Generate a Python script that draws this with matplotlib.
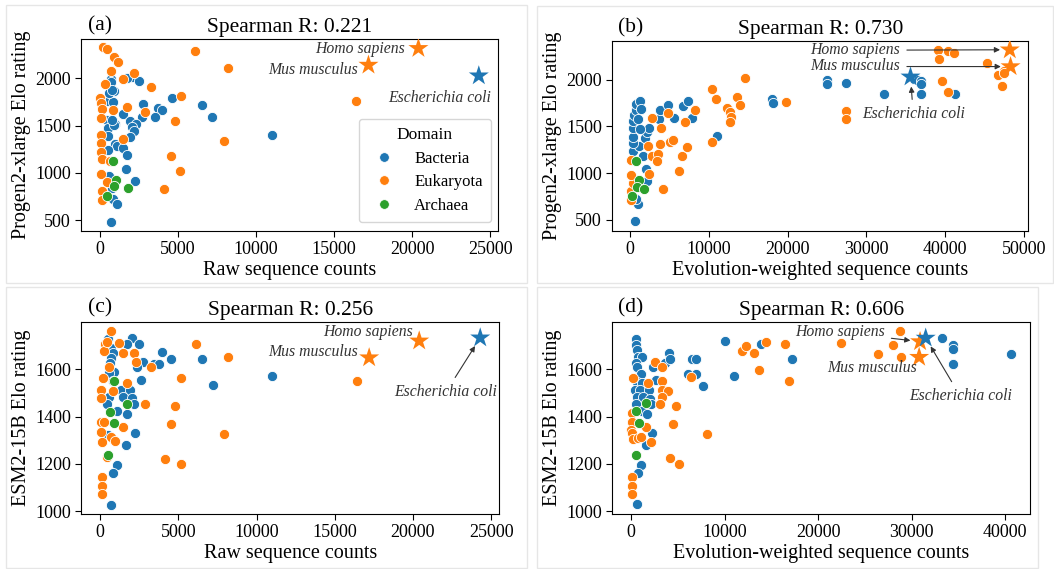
import matplotlib
matplotlib.use("Agg")
import matplotlib.pyplot as plt
from matplotlib.lines import Line2D
from matplotlib.patches import Rectangle
import numpy as np

plt.rcParams['font.family'] = ['Liberation Serif', 'DejaVu Serif']

BLUE, ORANGE, GREEN = '#1f77b4', '#ff7f0e', '#2ca02c'

#%% Data

# (a) raw counts vs Progen2-xlarge Elo
a_bac = [(2020, 2018), (1708, 2000), (2500, 1972), (708, 1993), (708, 1958), (667, 1859), (875, 1869),
         (500, 1764), (833, 1746), (2750, 1728), (6541, 1717), (3729, 1682), (3958, 1661), (3500, 1591),
         (7200, 1587), (2666, 1591), (1458, 1622), (458, 1562), (1916, 1552), (2333, 1517), (2020, 1488),
         (2166, 1446), (521, 1478), (979, 1517), (1916, 1375), (500, 1386), (979, 1305), (1104, 1287),
         (1458, 1262), (1729, 1192), (1646, 1040), (583, 970), (2250, 913), (771, 839), (812, 722),
         (1083, 670), (708, 482), (4600, 1792), (11050, 1400), (600, 1840), (750, 1880), (900, 1510),
         (750, 1560), (480, 1240)]
a_euk = [(187, 2328), (458, 2311), (875, 2222), (1166, 2176), (708, 2074), (2187, 2060), (1458, 1993),
         (292, 1936), (3291, 1905), (5200, 1812), (0, 1792), (42, 1735), (146, 1675), (833, 1665),
         (1708, 1700), (2900, 1647), (42, 1580), (4800, 1550), (42, 1400), (42, 1312), (1458, 1358),
         (7950, 1333), (42, 1217), (146, 1146), (667, 1128), (4520, 1181), (5150, 1015), (42, 991),
         (458, 899), (4100, 824), (146, 811), (146, 708), (6100, 2293), (8180, 2109), (16400, 1760)]
a_arc = [(833, 1121), (1000, 927), (875, 860), (1770, 835), (458, 758)]
a_stars = {'Homo sapiens': (20400, 2318), 'Mus musculus': (17200, 2141), 'Escherichia coli': (24270, 2028)}

# (b) evolution-weighted counts vs Progen2-xlarge Elo
b_bac = [(592, 483), (1015, 670), (719, 719), (2200, 913), (2073, 1047), (1650, 1188), (380, 1234),
         (1100, 1294), (338, 1319), (423, 1389), (1861, 1375), (2157, 1442), (423, 1478), (423, 1559),
         (508, 1619), (719, 1675), (804, 1742), (1227, 1771), (1438, 1682), (2369, 1488), (3638, 1577),
         (3765, 1675), (4822, 1725), (5584, 1587), (6726, 1718), (7360, 1771), (7868, 1591), (11083, 1400),
         (1015, 1577), (1227, 1471), (18000, 1790), (18200, 1750), (25000, 2000), (25000, 1955),
         (27400, 1965), (32200, 1848), (36100, 2010), (36500, 2000), (36900, 1990), (36900, 1955),
         (36900, 1848), (41300, 1848)]
b_euk = [(85, 712), (85, 814), (380, 899), (2453, 991), (85, 977), (4230, 828), (6218, 1019), (85, 1142),
         (2792, 1181), (3553, 1206), (3384, 1128), (6599, 1181), (7276, 1280), (2284, 1294), (3849, 1312),
         (5034, 1329), (5499, 1358), (10448, 1337), (3892, 1485), (2792, 1591), (4822, 1640), (8291, 1675),
         (7022, 1548), (10448, 1901), (10956, 1788), (14600, 2021), (12309, 1700), (12650, 1654),
         (12775, 1605), (12730, 1548), (13621, 1816), (13917, 1725), (19800, 1760), (27400, 1670),
         (27400, 1575), (39100, 2320), (40400, 2305), (41100, 2290), (39200, 2218), (39600, 1988),
         (40400, 1865), (45300, 2177), (46700, 2053), (47500, 2090), (47500, 2075), (47200, 1930)]
b_arc = [(804, 1125), (1142, 927), (931, 853), (1734, 835), (296, 754)]
b_stars = {'Homo sapiens': (48200, 2320), 'Mus musculus': (48300, 2140), 'Escherichia coli': (35600, 2030)}

# (c) raw counts vs ESM2-15B Elo
c_bac = [(2020, 1734), (1708, 1706), (2500, 1706), (521, 1727), (729, 1689), (812, 1668), (667, 1646),
         (625, 1625), (875, 1590), (562, 1583), (833, 1551), (3937, 1672), (4541, 1644), (6500, 1644),
         (2750, 1631), (2333, 1608), (3479, 1622), (3750, 1622), (2645, 1555), (7200, 1534), (1333, 1513),
         (1916, 1513), (1458, 1485), (2020, 1478), (2187, 1452), (562, 1485), (458, 1454), (1083, 1425),
         (1708, 1410), (521, 1323), (2250, 1332), (1646, 1279), (1083, 1194), (812, 1161), (708, 1027),
         (11000, 1572)]
c_euk = [(708, 1763), (292, 1707), (250, 1679), (458, 1717), (1187, 1713), (1458, 1670), (2187, 1668),
         (2291, 1630), (3270, 1608), (6100, 1708), (8180, 1652), (583, 1611), (5200, 1565), (187, 1565),
         (1708, 1544), (42, 1513), (42, 1480), (833, 1510), (2854, 1454), (4800, 1445), (42, 1379),
         (250, 1379), (4520, 1369), (1458, 1355), (7950, 1325), (42, 1334), (667, 1313), (146, 1292),
         (937, 1296), (4145, 1223), (5150, 1202), (104, 1147), (104, 1109), (104, 1075), (417, 1231),
         (16400, 1552)]
c_arc = [(875, 1551), (1750, 1454), (625, 1421), (875, 1372), (500, 1238)]
c_stars = {'Homo sapiens': (20400, 1720), 'Mus musculus': (17200, 1649), 'Escherichia coli': (24300, 1733)}

# (d) evolution-weighted counts vs ESM2-15B Elo
d_bac = [(528, 1728), (528, 1703), (598, 1682), (774, 1654), (1126, 1651), (493, 1625), (598, 1611),
         (1021, 1580), (598, 1548), (1126, 1541), (422, 1513), (950, 1513), (1936, 1513), (598, 1485),
         (1302, 1485), (2006, 1476), (493, 1454), (1126, 1425), (2182, 1454), (1760, 1411), (2253, 1332),
         (1654, 1280), (1056, 1194), (774, 1161), (669, 1030), (2358, 1608), (3590, 1628), (4013, 1670),
         (4118, 1642), (2710, 1555), (6125, 1580), (6477, 1642), (6934, 1642), (6934, 1580), (7709, 1531),
         (10000, 1721), (11000, 1572), (13900, 1705), (17190, 1644), (33230, 1731), (34370, 1703),
         (34370, 1686), (34370, 1622), (40610, 1663)]
d_euk = [(246, 1562), (1830, 1544), (2534, 1630), (3308, 1611), (3308, 1552), (3308, 1513), (3942, 1510),
         (3308, 1482), (3062, 1454), (4822, 1445), (140, 1414), (70, 1379), (0, 1344), (70, 1330),
         (246, 1307), (704, 1309), (1021, 1313), (1654, 1355), (2112, 1294), (4506, 1370), (8166, 1327),
         (4118, 1224), (5104, 1202), (70, 1147), (70, 1109), (70, 1075), (6406, 1566), (11827, 1679),
         (12250, 1699), (13094, 1669), (13693, 1597), (14432, 1715), (16500, 1706), (16900, 1552),
         (22400, 1712), (26400, 1665), (28000, 1703), (28800, 1763), (28900, 1651)]
d_arc = [(1654, 1456), (493, 1425), (845, 1372), (493, 1238)]
d_stars = {'Homo sapiens': (30900, 1717), 'Mus musculus': (30800, 1651), 'Escherichia coli': (31500, 1732)}

star_colors = {'Homo sapiens': ORANGE, 'Mus musculus': ORANGE, 'Escherichia coli': BLUE}

# label text positions: (x, y, ha, draw arrow?)
a_labels = {'Homo sapiens': (19520, 2307, 'right', False), 'Mus musculus': (16500, 2088, 'right', False),
            'Escherichia coli': (25060, 1795, 'right', False)}
b_labels = {'Homo sapiens': (34260, 2315, 'right', True), 'Mus musculus': (34260, 2141, 'right', True),
            'Escherichia coli': (35950, 1629, 'center', True)}
c_labels = {'Homo sapiens': (20010, 1756, 'right', False), 'Mus musculus': (16500, 1674, 'right', False),
            'Escherichia coli': (22120, 1505, 'center', True)}
d_labels = {'Homo sapiens': (27090, 1756, 'right', True), 'Mus musculus': (25740, 1604, 'center', False),
            'Escherichia coli': (35190, 1487, 'center', True)}

titles = ['Spearman R: 0.221', 'Spearman R: 0.730', 'Spearman R: 0.256', 'Spearman R: 0.606']
letters = ['(a)', '(b)', '(c)', '(d)']
xlabels = ['Raw sequence counts', 'Evolution-weighted sequence counts',
           'Raw sequence counts', 'Evolution-weighted sequence counts']
ylabels = ['Progen2-xlarge Elo rating', 'Progen2-xlarge Elo rating', 'ESM2-15B Elo rating', 'ESM2-15B Elo rating']

#%% Figure
W, H = 1054, 569
fig = plt.figure(figsize=(W / 100, H / 100), dpi=100)

# faint frames round each panel
for x0, y0, x1, y1 in [(6, 5, 527, 283), (537, 6, 1053, 283), (6, 287, 527, 568), (537, 287, 1038, 568)]:
    fig.add_artist(Rectangle((x0 / W, 1 - y1 / H), (x1 - x0) / W, (y1 - y0) / H, transform=fig.transFigure,
                             fill=False, edgecolor='#e6e6e6', lw=1))

boxes = [(81.3, 39, 498, 231), (612.3, 40.7, 1028.3, 230.7), (81.3, 321.7, 499, 513.7), (612.3, 321.7, 1030, 513.7)]
xlims = [(-1200, 25500), (-2250, 50550), (-1200, 25500), (-2000, 42650)]
ylims = [(384, 2417), (384, 2417), (990, 1801), (990, 1801)]
yticks = [[500, 1000, 1500, 2000], [500, 1000, 1500, 2000], [1000, 1200, 1400, 1600], [1000, 1200, 1400, 1600]]
xticks = [np.arange(0, 25001, 5000), np.arange(0, 50001, 10000), np.arange(0, 25001, 5000), np.arange(0, 40001, 10000)]

panels = [(a_bac, a_euk, a_arc, a_stars, a_labels), (b_bac, b_euk, b_arc, b_stars, b_labels),
          (c_bac, c_euk, c_arc, c_stars, c_labels), (d_bac, d_euk, d_arc, d_stars, d_labels)]

for i, (bac, euk, arc, stars, labels) in enumerate(panels):
    l, t, r, b = boxes[i]
    ax = fig.add_axes([l / W, 1 - b / H, (r - l) / W, (b - t) / H])
    for pts, c in [(bac, BLUE), (euk, ORANGE), (arc, GREEN)]:
        p = np.array(pts)
        ax.scatter(p[:, 0], p[:, 1], s=54, color=c, edgecolor='white', linewidth=0.6, zorder=3)
    for name, (sx, sy) in stars.items():
        ax.scatter([sx], [sy], marker='*', s=230, color=star_colors[name], edgecolor='none', zorder=4)
        tx, ty, ha, arrow = labels[name]
        props = None
        if arrow:
            props = dict(arrowstyle='-|>', color='#333333', lw=0.8, mutation_scale=8, shrinkA=3, shrinkB=7)
        ax.annotate(name, xy=(sx, sy), xytext=(tx, ty), ha=ha, va='center', fontsize=11.3,
                    style='italic', color='#333333', arrowprops=props, zorder=5)
    ax.set_xlim(*xlims[i])
    ax.set_ylim(*ylims[i])
    ax.set_xticks(xticks[i])
    ax.set_yticks(yticks[i])
    ax.tick_params(labelsize=13, length=4)
    ax.set_xlabel(xlabels[i], fontsize=14.5, labelpad=2)
    ax.set_ylabel(ylabels[i], fontsize=14.5, labelpad=3)
    ax.set_title(titles[i], fontsize=15.5, pad=5)
    ax.text(0.045, 1.07, letters[i], transform=ax.transAxes, fontsize=15.5, ha='center', va='center')
    if i == 0:
        handles = [Line2D([], [], marker='o', ls='', color=c, markersize=7, markeredgecolor='white',
                          markeredgewidth=0.6) for c in (BLUE, ORANGE, GREEN)]
        ax.legend(handles, ['Bacteria', 'Eukaryota', 'Archaea'], title='Domain', loc='lower right',
                  bbox_to_anchor=(0.983, 0.047), borderaxespad=0, fontsize=12, title_fontsize=12.5,
                  labelspacing=0.45, borderpad=0.5)

fig.savefig('out.png', dpi=100)
